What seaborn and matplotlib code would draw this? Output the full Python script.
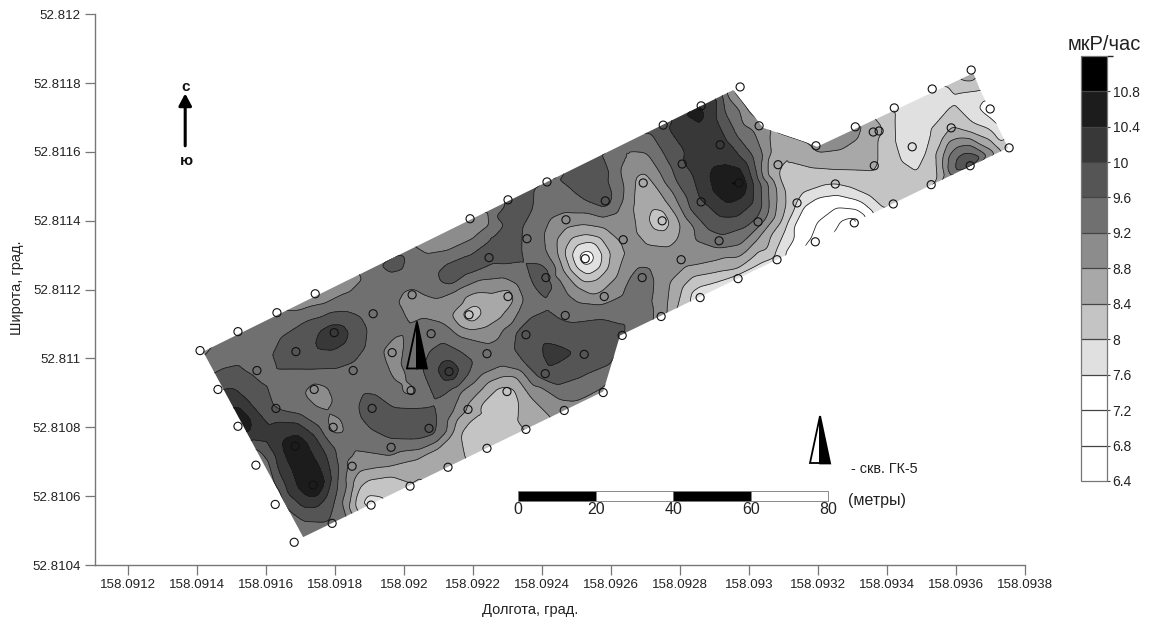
import numpy as np
import matplotlib
matplotlib.use("Agg")
import matplotlib.pyplot as plt
import matplotlib.tri as mtri
from matplotlib.colors import BoundaryNorm, ListedColormap
from matplotlib.patches import Polygon
import pandas as pd
import seaborn as sns

# all positions: offsets in 1e-6 degree from these bases
LON0, LAT0 = 158.09, 52.81

# survey stations: lon offset, lat offset, dose rate (mkR/h)
ST_WEST = [(1408,1023,9.1),(1518,1078,9.3),(1631,1133,9.3),(1742,1188,9.1),(1910,1130,9.4),(2023,1185,9.1),
 (2188,1127,8.2),(1797,1075,10.05),(1686,1020,9.8),(2078,1072,9.4),(1965,1017,9.0),(2240,1014,9.4),
 (1573,965,9.4),(1852,965,9.4),(2130,962,10.1),(1460,910,9.95),(1739,910,9.0),(2020,907,9.1),
 (1628,855,9.6),(1907,855,9.75),(2185,852,8.8),(1518,803,10.6),(1794,800,9.05),(2072,797,9.75),
 (1684,745,10.85),(1962,742,9.4),(2240,739,8.15),(1570,690,9.1),(1849,687,9.0),(2127,684,8.6),
 (1736,632,10.9),(2017,629,8.35),(1626,576,9.1),(1904,574,7.9),(1791,521,9.55),(1681,466,9.1)]
ST_MID = [(2414,1513,9.5),(2693,1510,8.6),(2301,1461,9.7),(2583,1458,9.75),(2861,1455,9.95),(2191,1406,9.0),
 (2469,1403,9.0),(2748,1400,8.2),(3026,1397,9.5),(2356,1348,9.4),(2635,1345,8.85),(2913,1342,9.5),
 (2246,1293,9.75),(2525,1290,7.4),(2803,1287,8.9),(2411,1235,9.75),(2690,1235,9.35),(2968,1232,7.9),
 (2301,1180,8.6),(2580,1180,8.9),(2858,1177,7.9),(2467,1125,9.4),(2745,1122,9.1),(2353,1069,9.75),
 (2632,1067,9.6),(2522,1012,9.8),(2409,956,9.9),(2577,901,9.1),(2298,904,8.3),(2464,849,9.0),(2353,794,8.4)]
ST_EAST = [(2974,1789,8.6),(2861,1734,10.3),(2751,1678,9.85),(3029,1676,8.9),(2916,1621,10.05),(2806,1565,9.95),
 (3084,1563,8.4),(2971,1510,10.8),(3139,1452,8.0),(3192,1339,7.1),(3081,1287,7.9),(3194,1618,8.85),
 (3308,1673,8.95),(3421,1728,7.95),(3531,1783,7.9),(3644,1838,8.6),(3699,1725,7.5),(3586,1670,8.4),
 (3473,1615,7.85),(3363,1560,8.45),(3250,1507,8.0),(3418,1449,8.2),(3305,1394,6.7),(3528,1505,8.1),
 (3641,1560,10.1),(3754,1612,8.3),(3360,1658,8.5),(3377,1661,8.5)]
# extra spot values (small maxima, band interiors, edge readings)
SPOTS = [(2849,1716,10.85),(2954,1507,10.9),(3757,1707,7.4),(3278,1330,6.5)]
SPOTS_DARK = [(2249,1359,9.75),(2307,1389,9.75),(2351,1446,9.75),(2220,1281,9.75),(2147,1243,9.75),(1965,1281,9.8),
 (2539,1490,9.75),(2583,1533,9.75),(2568,1577,9.75),(1988,808,9.75),(1945,829,9.75),(2032,808,9.75),(2438,1020,10.1),
 (2307,1446,9.75),(2351,1475,9.75),(2278,1417,9.75),(2330,1340,9.75),(2290,1320,9.75)]
SPOTS_LIGHT = [(1756,890,9.0),(1805,808,9.0),(1982,954,9.0),(1974,1032,9.0),(2046,1162,9.0),(2104,1142,9.0),(2307,1113,9.0),
 (2249,1069,9.0),(1669,1156,9.0),(1756,1185,9.0),(1828,1220,9.0),(2075,1345,9.05),(2133,1359,9.05),(2191,1389,9.05),
 (2235,1426,9.05),(2727,1476,8.6),(3250,1635,9.0),(3293,1658,9.0)]
SPOTS_CORE = [(2931,1505,10.6),(2960,1475,10.6),(2916,1533,10.6),(1713,678,10.6),(2858,1664,10.2),(2844,1606,10.2),
 (2858,1548,10.2),(2829,1693,10.2),(2881,1699,10.2)]

C_STRIP = [(1591,1116),(1707,1142),(1765,1156),(1834,1191),(1878,1235),(1866,1252)]
C_CORNER = [(1417,1003),(1446,1035)]
C_STRIP2 = [(2026,1325),(2066,1301),(2124,1310),(2200,1345),(2249,1383),(2258,1432)]
C_SMALL96 = [(1927,1275),(1959,1249),(1994,1258),(2005,1287),(1997,1310)]
C_NDARK = [(2374,1490),(2371,1432),(2345,1383),(2342,1325),(2348,1278),(2298,1272),(2220,1258),(2171,1235),
 (2139,1212),(2104,1220),(2095,1249),(2124,1278),(2200,1310),(2255,1351),(2264,1417)]
RING1 = [(1982,1165),(1997,1194),(2026,1203),(2055,1185),(2090,1174),(2153,1200),(2220,1229),(2287,1235),(2327,1215),
 (2345,1171),(2330,1133),(2287,1084),(2220,1049),(2162,1064),(2139,1084),(2113,1104),(2055,1119),(2003,1127)]
RING2 = [(2139,1122),(2171,1156),(2249,1191),(2307,1200),(2316,1180),(2316,1165),(2287,1122),(2240,1093),(2191,1084),(2162,1093)]
RING3 = [(2168,1136),(2197,1154),(2220,1151),(2226,1127),(2200,1104),(2177,1113)]
C_MID96 = [(2356,1272),(2400,1278),(2423,1249),(2435,1209),(2423,1180),(2400,1177),(2374,1209),(2359,1243)]
C_SDARK = [(2403,1156),(2443,1122),(2481,1107),(2577,1119),(2635,1127),(2661,1119),(2675,1090),(2626,1064),(2603,983),
 (2519,948),(2443,922),(2385,948),(2345,988),(2316,1026),(2322,1075),(2365,1119)]
C_SDARK10 = [(2400,1049),(2496,1017),(2452,988),(2417,971),(2400,1006)]
S92 = [(1834,542),(1834,629),(1852,716),(1872,730),(1959,716),(2046,736),(2124,785),(2142,843),(2153,872),(2162,901),
 (2220,948),(2287,977),(2345,959),(2394,919),(2452,881),(2501,875),(2577,919)]
S88 = [(1843,553),(1852,640),(1872,672),(1939,684),(2037,707),(2133,774),(2153,823),(2182,861),(2220,904),(2287,948),
 (2322,948),(2365,890),(2423,832)]
S84 = [(1860,562),(1872,626),(1901,649),(1959,658),(2055,672),(2104,716),(2162,785),(2191,823),(2211,861),(2269,916),
 (2298,919),(2322,910),(2336,872),(2336,814),(2345,794)]
S80 = [(1872,571),(1892,606),(1950,600)]
A96 = [(1443,954),(1475,971),(1515,980),(1562,954),(1602,916),(1617,858),(1649,846),(1698,837),(1756,800),(1800,736),
 (1808,658),(1800,591),(1779,524),(1707,527),(1660,562),(1626,629),(1605,698),(1576,733),(1550,736)]
B100 = [(1472,910),(1504,913),(1547,875),(1588,829),(1631,817),(1689,814),(1747,765),(1785,678),(1779,611),(1747,568),
 (1707,568),(1660,611),(1634,678),(1602,756),(1562,765),(1539,759)]
C104A = [(1489,861),(1524,861),(1559,823),(1559,794),(1533,774)]
C104B = [(1649,765),(1689,779),(1718,756),(1750,698),(1771,640),(1750,600),(1718,600),(1689,629),(1669,687),(1649,736)]
W92 = [(1559,722),(1591,698),(1617,620),(1669,518),(1689,510)]
ELL96 = [(1617,1011),(1640,1061),(1707,1104),(1785,1133),(1834,1136),(1872,1122),(1892,1084),(1887,1035),(1852,988),
 (1805,971),(1718,968),(1649,968),(1620,988)]
ELL100 = [(1730,1049),(1750,1084),(1785,1104),(1823,1104),(1846,1075),(1834,1041),(1794,1017),(1747,1020)]
BLOBA = [(1713,904),(1736,927),(1776,916),(1794,875),(1794,852),(1814,823),(1826,785),(1794,782),(1776,823),(1747,858),(1718,887)]
BLOBB = [(1939,1020),(1974,1061),(1997,1032),(1991,983),(2008,939),(2032,895),(1997,895),(1974,939),(1950,983)]
DC96 = [(2055,968),(2075,1020),(2113,1046),(2162,1020),(2200,991),(2185,954),(2142,916),(2104,887),(2069,930)]
DC100 = [(2092,968),(2110,997),(2142,997),(2165,968),(2148,933),(2113,930)]
DD96 = [(1866,861),(1881,901),(1921,895),(1968,861),(2026,858),(2075,861),(2098,823),(2090,779),(2037,762),(1959,765),(1901,794),(1872,829)]
TOP96 = [(2438,1525),(2481,1490),(2530,1455),(2577,1438),(2597,1446),(2606,1481),(2591,1528),(2574,1589)]
WRAP92 = [(2617,1612),(2626,1548),(2635,1461),(2617,1423),(2530,1423),(2472,1423),(2423,1403),(2409,1368),(2414,1307),
 (2432,1238),(2472,1191),(2510,1162),(2568,1156),(2626,1180),(2649,1229),(2678,1267),(2713,1264),(2727,1229),(2722,1162),(2722,1113)]
R88 = [(2443,1345),(2472,1380),(2519,1389),(2577,1380),(2626,1336),(2635,1296),(2617,1238),(2577,1200),(2548,1185),(2501,1209),(2461,1258),(2446,1301)]
R84 = [(2467,1316),(2487,1351),(2525,1360),(2568,1351),(2597,1307),(2591,1264),(2559,1229),(2519,1223),(2481,1258)]
R80 = [(2487,1301),(2501,1330),(2539,1339),(2574,1301),(2568,1264),(2533,1243),(2501,1264)]
R76 = [(2504,1296),(2519,1313),(2545,1313),(2554,1290),(2539,1272),(2516,1272)]
E88 = [(2670,1510),(2675,1531),(2699,1539),(2722,1510),(2762,1452),(2791,1412),(2800,1389),(2794,1354),(2762,1325),(2713,1330),(2675,1374),(2664,1441)]
E84 = [(2707,1403),(2719,1438),(2751,1432),(2771,1394),(2757,1368),(2722,1374)]
K92 = [(2664,1635),(2704,1597),(2742,1539),(2780,1481),(2809,1423),(2844,1345),(2907,1322),(2974,1330),(3018,1374),(3058,1441),
 (3055,1510),(3041,1586),(3012,1664),(2974,1722),(2936,1765)]
K96 = [(2713,1658),(2751,1597),(2791,1510),(2829,1432),(2881,1374),(2925,1359),(2994,1383),(3038,1441),(3035,1510),(3012,1586),
 (2965,1644),(2930,1713),(2925,1765)]
K100 = [(2762,1673),(2809,1568),(2858,1461),(2916,1412),(2965,1412),(3012,1452),(3012,1510),(2983,1577),(2945,1626),(2907,1702),(2910,1757)]
K104 = [(2884,1528),(2896,1557),(2936,1563),(2974,1554),(2994,1499),(2983,1470),(2936,1449),(2896,1481)]
VERTEX88 = [(2954,1774),(2980,1742),(2997,1716)]
F88 = [(2762,1136),(2771,1220),(2820,1267),(2925,1293),(3023,1345),(3076,1412),(3081,1461),(3055,1528),(3058,1658)]
F84 = [(2794,1151),(2809,1209),(2838,1238),(2916,1252),(2965,1258),(3052,1316),(3099,1412),(3105,1481),(3081,1539),(3070,1577),
 (3090,1600),(3128,1597),(3186,1554),(3264,1548),(3360,1542),(3374,1577),(3374,1635),(3365,1699)]
F80 = [(2823,1162),(2829,1194),(2858,1214),(2925,1232),(2968,1249),(3032,1278),(3105,1374),(3134,1438),(3157,1481),(3226,1505),(3284,1499),(3351,1470),(3386,1438)]
F76 = [(3360,1426),(3313,1461),(3255,1475),(3197,1467),(3157,1441),(3128,1383),(3099,1296)]
F72 = [(3160,1325),(3197,1394),(3255,1438),(3313,1432),(3342,1412)]
F68 = [(3244,1365),(3264,1403),(3302,1412)]
N88 = [(3171,1620),(3197,1597),(3264,1606),(3316,1641),(3328,1678)]
NE80 = [(3418,1722),(3421,1635),(3438,1577),(3490,1542),(3516,1597),(3534,1664),(3589,1728),(3612,1722),(3650,1684),(3728,1626),(3737,1606)]
SE84 = [(3548,1519),(3545,1577),(3560,1635),(3589,1673),(3641,1658),(3699,1635),(3734,1606)]
SE88 = [(3569,1533),(3563,1586),(3577,1629),(3612,1641),(3670,1621),(3714,1597)]
SE92 = [(3574,1539),(3577,1586),(3603,1615),(3641,1621),(3690,1586)]
SE96 = [(3598,1548),(3603,1583),(3627,1597),(3661,1591),(3679,1583)]
SE100 = [(3618,1554),(3635,1577),(3650,1568)]
TOPC80 = [(3574,1800),(3598,1771),(3670,1780)]
TOPC84 = [(3603,1815),(3627,1803),(3656,1803)]
NE76 = [(3679,1760),(3661,1728),(3690,1702),(3722,1673)]

TRACES = {
 9.2: [C_STRIP, C_CORNER, C_STRIP2, RING1, S92, W92, BLOBA, BLOBB, WRAP92, K92, SE92],
 9.6: [C_SMALL96, C_NDARK, C_MID96, C_SDARK, A96, ELL96, DC96, DD96, TOP96, K96, SE96],
 10.0: [C_SDARK10, B100, ELL100, DC100, K100, SE100],
 10.4: [C104A, C104B, K104],
 8.8: [RING2, S88, R88, E88, VERTEX88, F88, N88, SE88],
 8.4: [RING3, S84, R84, E84, F84, SE84, TOPC84],
 8.0: [S80, R80, F80, NE80, TOPC80],
 7.6: [R76, F76, NE76],
 7.2: [F72],
 6.8: [F68],
}
# survey outline
OUTLINE = [(1417,1020),(2954,1780),(3041,1670),(3171,1626),(3197,1615),(3650,1829),(3670,1780),(3751,1612),(2626,1067),(2577,904),(1707,481)]

LEVELS = [6.4,6.8,7.2,7.6,8.0,8.4,8.8,9.2,9.6,10.0,10.4,10.8,11.2]
BANDS = ["#ffffff","#ffffff","#ffffff","#e0e0e0","#c4c4c4","#a8a8a8","#8c8c8c","#707070","#555555","#383838","#1c1c1c","#000000"]
XTICKS = [158.0912,158.0914,158.0916,158.0918,158.092,158.0922,158.0924,158.0926,158.0928,158.093,158.0932,158.0934,158.0936,158.0938]
YTICKS = [52.8104,52.8106,52.8108,52.811,52.8112,52.8114,52.8116,52.8118,52.812]
SCALE_LABELS = ["0","20","40","60","80"]
SCALE_X = [2330,2556,2780,3006,3229]
SCALE_Y = (585,614)

sns.set_theme(style="white")
plt.rcParams['font.family'] = ['Liberation Sans', 'DejaVu Sans']

def lon(v): return LON0 + np.asarray(v, float)*1e-6
def lat(v): return LAT0 + np.asarray(v, float)*1e-6

stations = pd.DataFrame(ST_WEST+ST_MID+ST_EAST, columns=["x","y","v"])
rows = ST_WEST+ST_MID+ST_EAST+SPOTS+SPOTS_DARK+SPOTS_LIGHT+SPOTS_CORE
for lev, group in TRACES.items():
    for tr in group:
        rows = rows + [(a,b,lev) for a,b in tr]
pts = pd.DataFrame(rows, columns=["x","y","v"]).drop_duplicates(subset=["x","y"])

fig = plt.figure(figsize=(11.52,6.23), dpi=100)
ax = fig.add_axes([94.7/1152, (623-565)/623, (1025-94.7)/1152, (565-14.3)/623])
tri = mtri.Triangulation(pts.x.values.astype(float), pts.y.values.astype(float))

# render the read values on a fine raster, then round the outlines with a small binomial filter
gx = np.arange(1350, 3830, 5.0)
gy = np.arange(420, 1880, 5.0)
GX, GY = np.meshgrid(gx, gy)
raw = mtri.LinearTriInterpolator(tri, pts.v.values)(GX, GY)
mask = np.ma.getmaskarray(raw)
val = np.where(mask, 0.0, np.ma.getdata(raw))
wgt = (~mask).astype(float)
kern = np.array([1,4,6,4,1])/16.0
def blur(a):
    a = np.apply_along_axis(lambda r: np.convolve(r, kern, mode="same"), 0, a)
    return np.apply_along_axis(lambda r: np.convolve(r, kern, mode="same"), 1, a)
for _ in range(2):
    val, wgt = blur(val), blur(wgt)
Z = np.where(wgt > 1e-6, val/np.maximum(wgt,1e-6), 8.0)
Z = np.clip(Z, 6.41, 11.19)

cmap = ListedColormap(BANDS)
norm = BoundaryNorm(LEVELS, cmap.N)
cf = ax.contourf(lon(gx), lat(gy), Z, levels=LEVELS, cmap=cmap, norm=norm)
cl = ax.contour(lon(gx), lat(gy), Z, levels=LEVELS[1:-1], colors="#1a1a1a", linewidths=0.55)
clip = Polygon(np.c_[lon([p[0] for p in OUTLINE]), lat([p[1] for p in OUTLINE])], closed=True, transform=ax.transData, fc="none", ec="none")
ax.add_patch(clip)
cf.set_clip_path(clip)
cl.set_clip_path(clip)

stations["lon"] = lon(stations.x); stations["lat"] = lat(stations.y)
sns.scatterplot(data=stations, x="lon", y="lat", marker="o", s=34, facecolor="none", edgecolor="#111111", linewidth=0.8, ax=ax, zorder=5, legend=False)
ax.set_xlabel(""); ax.set_ylabel("")

def well(xl, xm, xr, ybase, ytop, inner):
    ax.fill(lon([xl,xm,xm]), lat([ybase,ybase,ytop]), fc=inner, ec="black", lw=1.3, zorder=6, joinstyle="miter")
    ax.fill(lon([xm,xr,xm]), lat([ybase,ybase,ytop]), fc="black", ec="black", lw=1.3, zorder=6, joinstyle="miter")
well(2008,2037,2066,971,1107,"none")
well(3177,3206,3235,695,832,"white")

for i in range(4):
    ax.fill_between(lon(SCALE_X[i:i+2]), lat(SCALE_Y[0]), lat(SCALE_Y[1]), color="black" if i%2==0 else "white", ec="#777777", lw=0.6, zorder=4)
for xx,l in zip(SCALE_X,SCALE_LABELS):
    ax.text(lon(xx), lat(562), l, ha="center", va="center", fontsize=11.5, color="#222222")
ax.text(lon(3370), lat(588), "(метры)", ha="center", va="center", fontsize=11.5, color="#222222")
ax.text(lon(3295), lat(680), "- скв. ГК-5", ha="left", va="center", fontsize=10.4, color="#222222")

ax.annotate("", xy=(lon(1365),lat(1770)), xytext=(lon(1365),lat(1618)),
            arrowprops=dict(arrowstyle="-|>,head_width=0.32,head_length=0.6", lw=2.2, color="black", shrinkA=0, shrinkB=0))
ax.text(lon(1365), lat(1790), "с", ha="center", va="center", fontsize=11, fontweight="bold", color="#111111")
ax.text(lon(1370), lat(1575), "ю", ha="center", va="center", fontsize=11, fontweight="bold", color="#111111")

ax.set_xlim(158.0912-33.6/345000, 158.0912+896.7/345000)
ax.set_ylim(52.8104, 52.812)
ax.set_xticks(XTICKS); ax.set_xticklabels([f"{t:.4f}".rstrip("0") for t in XTICKS])
ax.set_yticks(YTICKS); ax.set_yticklabels([f"{t:.4f}".rstrip("0") for t in YTICKS])
ax.tick_params(direction="out", length=7, width=0.9, color="#777777", labelcolor="#222222", labelsize=9.6, pad=3, left=True, bottom=True)
for s in ("top","right"): ax.spines[s].set_visible(False)
for s in ("left","bottom"):
    ax.spines[s].set_color("#777777"); ax.spines[s].set_linewidth(1.0)
fig.text(530/1152, 1-610/623, "Долгота, град.", ha="center", va="center", fontsize=10.5, color="#222222")
fig.text(17/1152, 1-288/623, "Широта, град.", rotation=90, ha="center", va="center", fontsize=10.5, color="#222222")

cax = fig.add_axes([1080.7/1152, (623-481)/623, 26.3/1152, (481-55.7)/623])
cb = fig.colorbar(cf, cax=cax, ticks=LEVELS[:-1], drawedges=True, spacing="proportional")
cb.ax.set_yticklabels([f"{t:g}" for t in LEVELS[:-1]])
cb.ax.tick_params(length=2, width=0.8, color="#444444", labelsize=10, labelcolor="#222222", pad=2, right=True)
cb.outline.set_edgecolor("#777777"); cb.outline.set_linewidth(0.9)
cb.dividers.set_color("#444444"); cb.dividers.set_linewidth(0.9)
fig.text(1104/1152, 1-44/623, "мкР/час", ha="center", va="center", fontsize=14.5, color="#222222")

fig.savefig("out.png", dpi=100)
